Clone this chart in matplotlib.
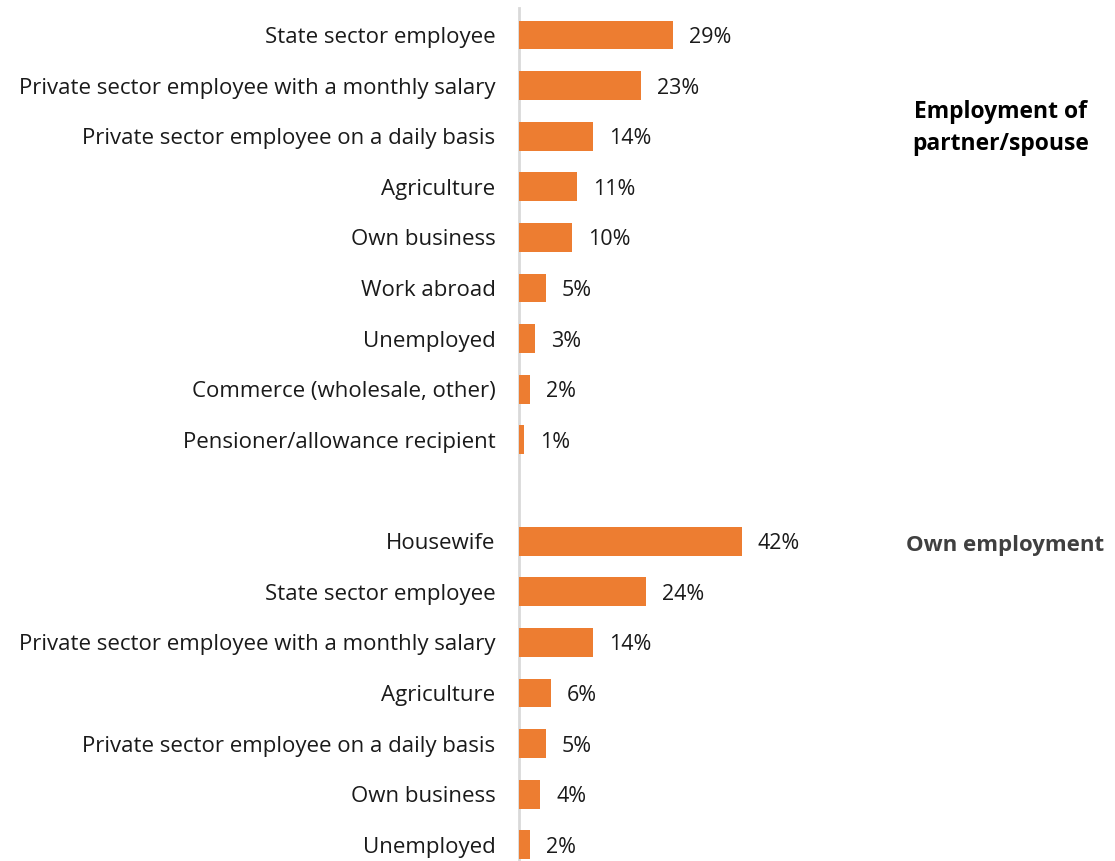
import matplotlib.pyplot as plt

plt.rcParams['font.family'] = ['Open Sans', 'DejaVu Sans']

partner_labels = ["State sector employee",
                  "Private sector employee with a monthly salary",
                  "Private sector employee on a daily basis",
                  "Agriculture",
                  "Own business",
                  "Work abroad",
                  "Unemployed",
                  "Commerce (wholesale, other)",
                  "Pensioner/allowance recipient"]
partner_values = [29, 23, 14, 11, 10, 5, 3, 2, 1]

own_labels = ["Housewife",
              "State sector employee",
              "Private sector employee with a monthly salary",
              "Agriculture",
              "Private sector employee on a daily basis",
              "Own business",
              "Unemployed"]
own_values = [42, 24, 14, 6, 5, 4, 2]

orange = "#ED7D31"

# one empty slot between the two groups
pos_partner = list(range(len(partner_values)))
pos_own = [len(partner_values) + 1 + i for i in range(len(own_values))]
positions = pos_partner + pos_own
labels = partner_labels + own_labels
values = partner_values + own_values

fig = plt.figure(figsize=(11.15, 8.61), dpi=100)
ax = fig.add_axes([0.4655, 0.0, 0.5345, 1.0])

ax.barh(positions, values, height=0.57, color=orange)
for p, v in zip(positions, values):
    ax.text(v + 3.0, p, f"{v}%", va='center_baseline', ha='left', fontsize=15.5, color='#1a1a1a')

ax.set_xlim(0, 112.5)
ax.set_ylim(16.32, -0.69)
ax.set_yticks(positions)
ax.set_yticklabels(labels, fontsize=16, color='#1a1a1a', va='center_baseline')
ax.tick_params(axis='y', length=0, pad=17)
ax.set_xticks([])
for s in ax.spines.values():
    s.set_visible(False)
ax.plot([0, 0], [-0.53, 16.32], color='#D9D9D9', lw=2, clip_on=False, zorder=0)

fig.text(1001 / 1115, 1 - 128 / 861, "Employment of\npartner/spouse", ha='center', va='center',
         fontsize=16.5, fontweight='bold', color='black', linespacing=1.45)
fig.text(1005 / 1115, 1 - 545 / 861, "Own employment", ha='center', va='center',
         fontsize=16, fontweight='bold', color='#404040')

fig.savefig("out.png", dpi=100)
